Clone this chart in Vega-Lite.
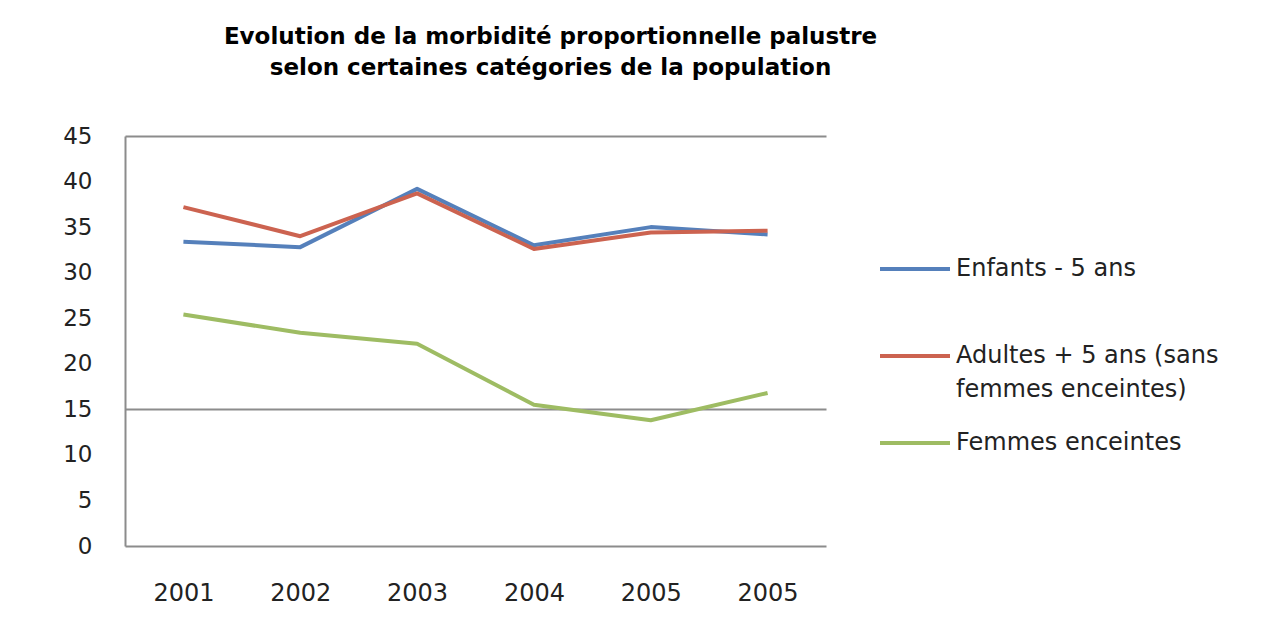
{
  "$schema": "https://vega.github.io/schema/vega-lite/v6.json",
  "width": 701,
  "height": 410,
  "autosize": {"type": "none"},
  "padding": {"left": 125, "top": 136, "right": 455, "bottom": 86},
  "background": "white",
  "title": {
    "text": ["Evolution de la morbidité proportionnelle palustre", "selon certaines catégories de la population"],
    "font": "DejaVu Sans",
    "fontSize": 23,
    "fontWeight": "bold",
    "lineHeight": 31,
    "anchor": "middle",
    "dx": 75,
    "offset": 45,
    "color": "#000000"
  },
  "data": {
    "values": [
      {"annee": "2001", "serie": "Enfants - 5 ans", "valeur": 33.4},
      {"annee": "2002", "serie": "Enfants - 5 ans", "valeur": 32.8},
      {"annee": "2003", "serie": "Enfants - 5 ans", "valeur": 39.2},
      {"annee": "2004", "serie": "Enfants - 5 ans", "valeur": 33.0},
      {"annee": "2005", "serie": "Enfants - 5 ans", "valeur": 35.0},
      {"annee": "2005 ", "serie": "Enfants - 5 ans", "valeur": 34.2},
      {"annee": "2001", "serie": "Adultes + 5 ans (sans femmes enceintes)", "valeur": 37.2},
      {"annee": "2002", "serie": "Adultes + 5 ans (sans femmes enceintes)", "valeur": 34.0},
      {"annee": "2003", "serie": "Adultes + 5 ans (sans femmes enceintes)", "valeur": 38.7},
      {"annee": "2004", "serie": "Adultes + 5 ans (sans femmes enceintes)", "valeur": 32.6},
      {"annee": "2005", "serie": "Adultes + 5 ans (sans femmes enceintes)", "valeur": 34.4},
      {"annee": "2005 ", "serie": "Adultes + 5 ans (sans femmes enceintes)", "valeur": 34.6},
      {"annee": "2001", "serie": "Femmes enceintes", "valeur": 25.4},
      {"annee": "2002", "serie": "Femmes enceintes", "valeur": 23.4},
      {"annee": "2003", "serie": "Femmes enceintes", "valeur": 22.2},
      {"annee": "2004", "serie": "Femmes enceintes", "valeur": 15.5},
      {"annee": "2005", "serie": "Femmes enceintes", "valeur": 13.8},
      {"annee": "2005 ", "serie": "Femmes enceintes", "valeur": 16.8}
    ]
  },
  "mark": {"type": "line", "strokeWidth": 4, "strokeJoin": "round"},
  "encoding": {
    "x": {
      "field": "annee",
      "type": "ordinal",
      "sort": null,
      "scale": {"type": "point", "padding": 0.5},
      "axis": {
        "title": null,
        "labelAngle": 0,
        "labelFont": "DejaVu Sans",
        "labelFontSize": 24,
        "labelColor": "#222222",
        "labelPadding": 35,
        "ticks": false,
        "grid": false,
        "domainColor": "#8c8c8c",
        "domainWidth": 2,
        "labelExpr": "trim(datum.label)"
      }
    },
    "y": {
      "field": "valeur",
      "type": "quantitative",
      "scale": {"domain": [0, 45], "nice": false},
      "axis": {
        "title": null,
        "values": [0, 5, 10, 15, 20, 25, 30, 35, 40, 45],
        "labelFont": "DejaVu Sans",
        "labelFontSize": 23,
        "labelColor": "#222222",
        "labelPadding": 33,
        "ticks": false,
        "domainColor": "#8c8c8c",
        "domainWidth": 2,
        "grid": true,
        "gridColor": "#8c8c8c",
        "gridWidth": 2,
        "gridOpacity": {"condition": {"test": "datum.value == 15 || datum.value == 45", "value": 1}, "value": 0}
      }
    },
    "color": {
      "field": "serie",
      "type": "nominal",
      "sort": ["Enfants - 5 ans", "Adultes + 5 ans (sans femmes enceintes)", "Femmes enceintes"],
      "scale": {
        "domain": ["Enfants - 5 ans", "Adultes + 5 ans (sans femmes enceintes)", "Femmes enceintes"],
        "range": ["#5580BB", "#CC6350", "#9EBC63"]
      },
      "legend": {
        "title": null,
        "orient": "none",
        "legendX": 753,
        "legendY": 96,
        "symbolType": "stroke",
        "symbolSize": 4900,
        "symbolStrokeWidth": 4,
        "labelFont": "DejaVu Sans",
        "labelFontSize": 24,
        "labelColor": "#222222",
        "labelLimit": 400,
        "labelOffset": 4,
        "labelBaseline": "middle",
        "labelExpr": "datum.label == 'Adultes + 5 ans (sans femmes enceintes)' ? ['Adultes + 5 ans (sans', 'femmes enceintes)'] : [datum.label, ' ']",
        "rowPadding": 4,
        "encode": {"labels": {"update": {"lineHeight": {"value": 34}}}}
      }
    }
  },
  "config": {"view": {"stroke": null}}
}
